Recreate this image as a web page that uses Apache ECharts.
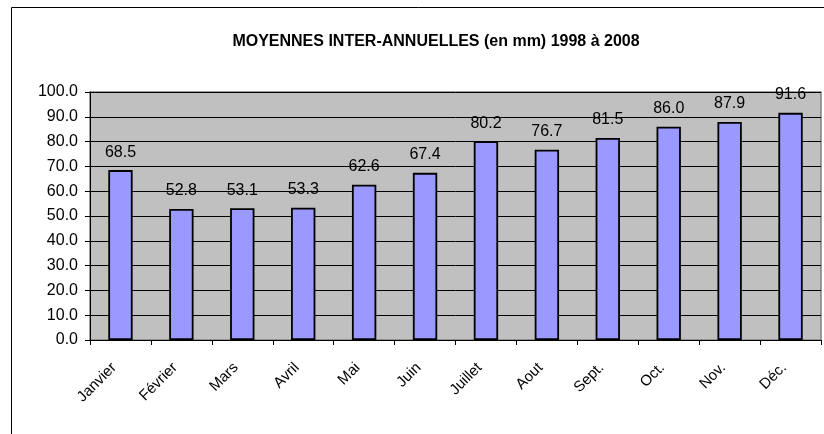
<!DOCTYPE html>
<html><head><meta charset="utf-8">
<script src="https://cdn.jsdelivr.net/npm/echarts@6/dist/echarts.min.js"></script>
<style>html,body{margin:0;padding:0;background:#fff}#c{width:824px;height:434px}</style>
</head><body><div id="c"></div>
<script>
var categories = ['Janvier','Février','Mars','Avril','Mai','Juin','Juillet','Aout','Sept.','Oct.','Nov.','Déc.'];
var values = [68.5, 52.8, 53.1, 53.3, 62.6, 67.4, 80.2, 76.7, 81.5, 86.0, 87.9, 91.6];
var titleText = 'MOYENNES INTER-ANNUELLES (en mm) 1998 à 2008';
var FF = 'Liberation Sans, Arial, sans-serif';
var chart = echarts.init(document.getElementById('c'), null, {renderer:'canvas'});
chart.setOption({
  animation:false,
  textStyle:{fontFamily:FF},
  title:{text:titleText, left:431, textAlign:'center', top:29,
    textStyle:{fontSize:16, fontWeight:'bold', color:'#000', fontFamily:FF}},
  graphic:[{type:'rect', shape:{x:11.5,y:7.5,width:830,height:440}, style:{fill:'none', stroke:'#000', lineWidth:1}, z:-1}],
  grid:{left:90, top:92, right:3, bottom:94, show:true, backgroundColor:'#c0c0c0', borderColor:'#808080', borderWidth:1.5},
  xAxis:{type:'category', data:categories,
    axisLine:{lineStyle:{color:'#000', width:1}},
    axisTick:{show:true, length:5, lineStyle:{color:'#000'}},
    axisLabel:{rotate:45, color:'#000', fontSize:15, margin:19, padding:[0,9,0,0], fontFamily:FF}},
  yAxis:{type:'value', min:0, max:100, interval:10,
    axisLine:{show:true, lineStyle:{color:'#000'}},
    axisTick:{show:true, length:5, lineStyle:{color:'#000'}},
    splitLine:{lineStyle:{color:'#000', width:1}},
    axisLabel:{color:'#000', fontSize:16, margin:12, formatter:function(v){return v.toFixed(1);}, fontFamily:FF}},
  series:[{type:'bar', data:values, barWidth:'40%',
    itemStyle:{color:'#9999ff', borderColor:'#000', borderWidth:1.8},
    label:{show:true, position:'top', distance:10, color:'#000', fontSize:16,
      formatter:function(p){return p.value.toFixed(1);}, fontFamily:FF}}]
});
</script></body></html>
